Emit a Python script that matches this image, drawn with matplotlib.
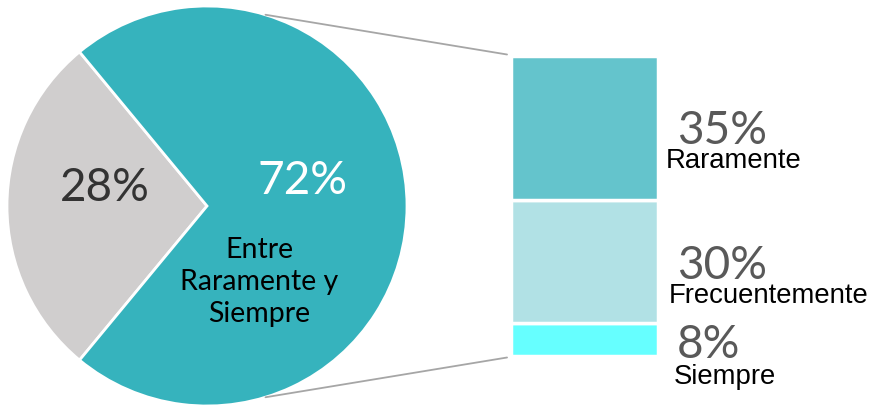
import numpy as np
import matplotlib.pyplot as plt
from matplotlib.patches import ConnectionPatch

# data
pie_labels = ['Otros', 'Entre\nRaramente y\nSiempre']
pie_values = [28, 72]
pie_colors = ['#D0CECE', '#36B3BD']

bar_labels = ['Siempre', 'Frecuentemente', 'Raramente']
bar_values = [8, 30, 35]
bar_colors = ['#66FFFF', '#B1E1E5', '#64C4CC']

W, H = 882, 409
fig = plt.figure(figsize=(W / 100, H / 100), dpi=100)


def px_box(x0, y0, x1, y1):
    # pixel box (top-left origin) -> figure fraction rect
    return [x0 / W, 1 - y1 / H, (x1 - x0) / W, (y1 - y0) / H]


# pie
ax_pie = fig.add_axes(px_box(7, 6, 407, 406))
start = 180 - pie_values[0] / 100 * 360 / 2
ax_pie.pie(pie_values, colors=pie_colors, startangle=start, counterclock=True,
           radius=1, wedgeprops=dict(edgecolor='white', linewidth=2))
ax_pie.set_xlim(-1, 1)
ax_pie.set_ylim(-1, 1)
ax_pie.set_aspect('equal')
ax_pie.axis('off')

ax_pie.text(-0.51, 0.09, f'{pie_values[0]}%', fontsize=33, family='Lato',
            color='#333333', ha='center', va='center')
ax_pie.text(0.475, 0.125, f'{pie_values[1]}%', fontsize=33, family='Lato',
            color='white', ha='center', va='center')
ax_pie.text(0.26, -0.38, pie_labels[1], fontsize=20.5, family='Lato',
            color='black', ha='center', va='center', linespacing=1.3)

# stacked bar
ax_bar = fig.add_axes(px_box(511, 56, 658, 356))
bottom = 0
for v, c in zip(bar_values, bar_colors):
    ax_bar.bar(0, v, width=1, bottom=bottom, color=c, edgecolor='white',
               linewidth=2.5)
    bottom += v
ax_bar.set_xlim(-0.5, 0.5)
ax_bar.set_ylim(0, sum(bar_values))
ax_bar.axis('off')

# labels beside the bar
pct_pos = [(677, 345), (677, 266), (677, 131)]
name_pos = [(674, 377), (669, 296), (666, 161)]
for v, lab, (px, py), (nx, ny) in zip(bar_values, bar_labels, pct_pos, name_pos):
    fig.text(px / W, 1 - py / H, f'{v}%', fontsize=33, family='Lato',
             color='#595959', ha='left', va='center')
    fig.text(nx / W, 1 - ny / H, lab, fontsize=19.8, family='Liberation Sans',
             color='black', ha='left', va='center')

# connector lines
ang = np.deg2rad(73)
for sgn, yb in [(1, 1.005), (-1, -0.005)]:
    con = ConnectionPatch(xyA=(np.cos(ang), sgn * np.sin(ang)), coordsA=ax_pie.transData,
                          xyB=(-0.027, yb), coordsB=ax_bar.transAxes,
                          color='#A6A6A6', linewidth=1.3)
    fig.add_artist(con)

fig.savefig('out.png', dpi=100)
